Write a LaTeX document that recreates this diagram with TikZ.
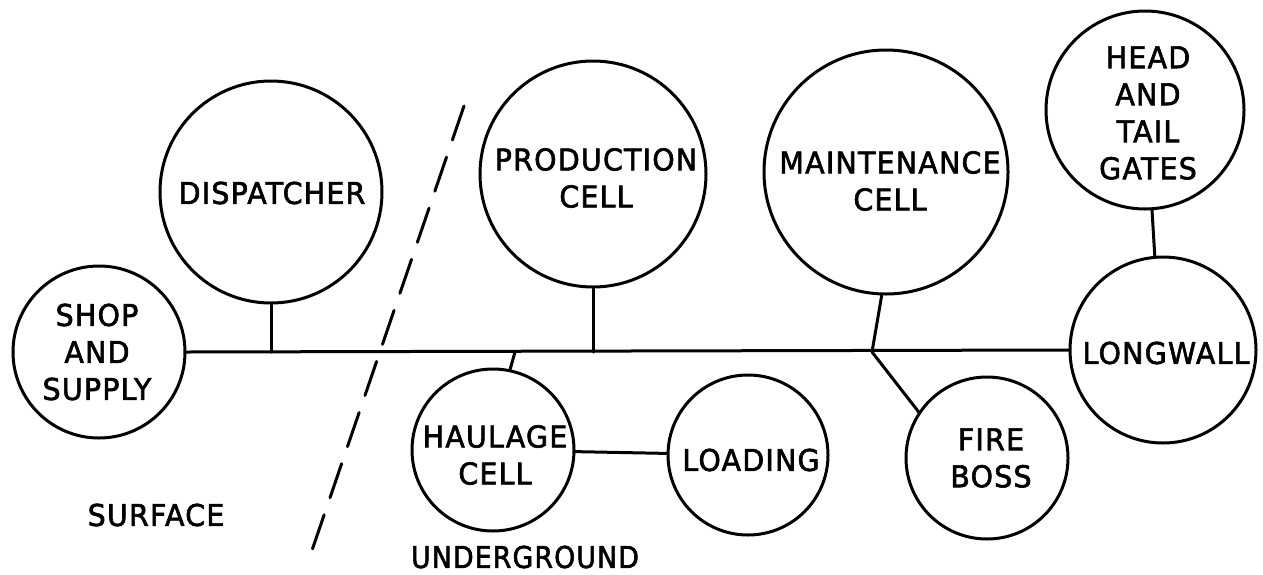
\documentclass[tikz,border=0pt]{standalone}
\usepackage{fontspec}
\setmainfont{DejaVu Sans}[FakeStretch=0.95,FakeBold=2,LetterSpace=4]
\begin{document}
\begin{tikzpicture}[x=1pt,y=-1pt,line width=3pt,line cap=round,
  unit/.style={circle,draw,inner sep=0pt,minimum size=#1},
  lbl/.style={inner sep=0pt,align=center,font=\fontsize{30}{37}\selectfont},
  divider/.style={dash pattern=on 36pt off 18pt,line width=3pt}]
\useasboundingbox (0,0) rectangle (1263,574);

% cells
\node[unit=172pt] (shop)  at (99,352)   {};
\node[unit=222pt] (disp)  at (271,192)  {};
\node[unit=226pt] (prod)  at (593,174)  {};
\node[unit=244pt] (maint) at (886,172)  {};
\node[unit=198pt] (head)  at (1145,110) {};
\node[unit=186pt] (long)  at (1163,350) {};
\node[unit=162pt] (haul)  at (493,450)  {};
\node[unit=160pt] (load)  at (748,455)  {};
\node[unit=162pt] (fire)  at (987,458)  {};

% cell names
\node[lbl] (shop-t)  at (97,352)   {SHOP\\AND\\SUPPLY};
\node[lbl] (disp-t)  at (272,193)  {DISPATCHER};
\node[lbl] (prod-t)  at (596,178)  {PRODUCTION\\CELL};
\node[lbl] (maint-t) at (890,181)  {MAINTENANCE\\CELL};
\node[lbl] (head-t)  at (1148,113) {HEAD\\AND\\TAIL\\GATES};
\node[lbl] (long-t)  at (1166,353) {LONGWALL};
\node[lbl] (haul-t)  at (495,455)  {HAULAGE\\CELL};
\node[lbl] (load-t)  at (751,460)  {LOADING};
\node[lbl] (fire-t)  at (991,458)  {FIRE\\BOSS};

% zone labels
\node[lbl] (surf)  at (156,515) {SURFACE};
\node[lbl,xscale=0.94] (under) at (525,557) {UNDERGROUND};

% junctions on the trunk line
\coordinate (jd) at (disp.south |- 0,352);
\coordinate (jh) at (515,352);
\coordinate (jp) at (prod.south |- 0,352);
\coordinate (jm) at (872,352);

% trunk line and branches
\draw (shop.east) -- (long.west);
\draw (disp.south) -- (jd);
\draw (prod.south) -- (jp);
\draw (maint.-92) -- (jm);
\draw (jm) -- (fire.146);
\draw (jh) -- (haul.78);
\draw (haul) -- (load);
\draw (head.-86) -- (long.95);

% surface / underground boundary
\coordinate (dtop) at (464,106);
\coordinate (dbot) at (308,562);
\draw[divider] (dtop) -- (dbot);
\end{tikzpicture}
\end{document}
